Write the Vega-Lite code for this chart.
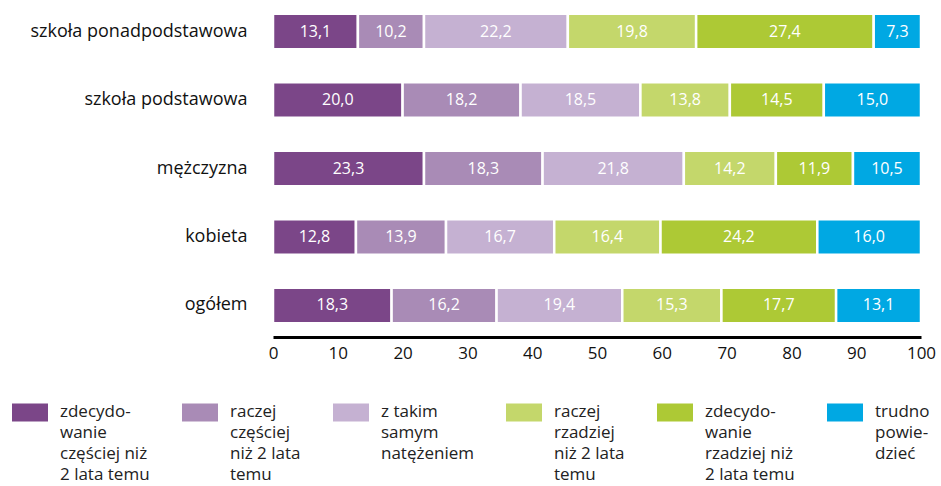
{
  "$schema": "https://vega.github.io/schema/vega-lite/v6.json",
  "width": 648,
  "height": 337,
  "autosize": {"type": "none"},
  "padding": {"left": 273, "top": 0, "right": 20, "bottom": 149},
  "config": {
    "view": {"stroke": null},
    "font": "Open Sans",
    "style": {"guide-label": {"lineHeight": 21}},
    "locale": {"number": {"decimal": ",", "thousands": " ", "grouping": [3], "currency": ["", " zł"]}}
  },
  "data": {
    "values": [
      {"g": "szkoła ponadpodstawowa", "r": "zdecydowanie częściej niż 2 lata temu", "o": 1, "v": 13.1},
      {"g": "szkoła ponadpodstawowa", "r": "raczej częściej niż 2 lata temu", "o": 2, "v": 10.2},
      {"g": "szkoła ponadpodstawowa", "r": "z takim samym natężeniem", "o": 3, "v": 22.2},
      {"g": "szkoła ponadpodstawowa", "r": "raczej rzadziej niż 2 lata temu", "o": 4, "v": 19.8},
      {"g": "szkoła ponadpodstawowa", "r": "zdecydowanie rzadziej niż 2 lata temu", "o": 5, "v": 27.4},
      {"g": "szkoła ponadpodstawowa", "r": "trudno powiedzieć", "o": 6, "v": 7.3},
      {"g": "szkoła podstawowa", "r": "zdecydowanie częściej niż 2 lata temu", "o": 1, "v": 20.0},
      {"g": "szkoła podstawowa", "r": "raczej częściej niż 2 lata temu", "o": 2, "v": 18.2},
      {"g": "szkoła podstawowa", "r": "z takim samym natężeniem", "o": 3, "v": 18.5},
      {"g": "szkoła podstawowa", "r": "raczej rzadziej niż 2 lata temu", "o": 4, "v": 13.8},
      {"g": "szkoła podstawowa", "r": "zdecydowanie rzadziej niż 2 lata temu", "o": 5, "v": 14.5},
      {"g": "szkoła podstawowa", "r": "trudno powiedzieć", "o": 6, "v": 15.0},
      {"g": "mężczyzna", "r": "zdecydowanie częściej niż 2 lata temu", "o": 1, "v": 23.3},
      {"g": "mężczyzna", "r": "raczej częściej niż 2 lata temu", "o": 2, "v": 18.3},
      {"g": "mężczyzna", "r": "z takim samym natężeniem", "o": 3, "v": 21.8},
      {"g": "mężczyzna", "r": "raczej rzadziej niż 2 lata temu", "o": 4, "v": 14.2},
      {"g": "mężczyzna", "r": "zdecydowanie rzadziej niż 2 lata temu", "o": 5, "v": 11.9},
      {"g": "mężczyzna", "r": "trudno powiedzieć", "o": 6, "v": 10.5},
      {"g": "kobieta", "r": "zdecydowanie częściej niż 2 lata temu", "o": 1, "v": 12.8},
      {"g": "kobieta", "r": "raczej częściej niż 2 lata temu", "o": 2, "v": 13.9},
      {"g": "kobieta", "r": "z takim samym natężeniem", "o": 3, "v": 16.7},
      {"g": "kobieta", "r": "raczej rzadziej niż 2 lata temu", "o": 4, "v": 16.4},
      {"g": "kobieta", "r": "zdecydowanie rzadziej niż 2 lata temu", "o": 5, "v": 24.2},
      {"g": "kobieta", "r": "trudno powiedzieć", "o": 6, "v": 16.0},
      {"g": "ogółem", "r": "zdecydowanie częściej niż 2 lata temu", "o": 1, "v": 18.3},
      {"g": "ogółem", "r": "raczej częściej niż 2 lata temu", "o": 2, "v": 16.2},
      {"g": "ogółem", "r": "z takim samym natężeniem", "o": 3, "v": 19.4},
      {"g": "ogółem", "r": "raczej rzadziej niż 2 lata temu", "o": 4, "v": 15.3},
      {"g": "ogółem", "r": "zdecydowanie rzadziej niż 2 lata temu", "o": 5, "v": 17.7},
      {"g": "ogółem", "r": "trudno powiedzieć", "o": 6, "v": 13.1}
    ]
  },
  "transform": [
    {"stack": "v", "groupby": ["g"], "sort": [{"field": "o", "order": "ascending"}], "as": ["v0", "v1"]},
    {"calculate": "(datum.v0 + datum.v1) / 2", "as": "mid"}
  ],
  "encoding": {
    "y": {
      "field": "g",
      "type": "nominal",
      "sort": ["szkoła ponadpodstawowa", "szkoła podstawowa", "mężczyzna", "kobieta", "ogółem"],
      "scale": {"paddingInner": 0.48, "paddingOuter": 0.2},
      "axis": {"title": null, "domain": false, "ticks": false, "labelPadding": 26, "labelFontSize": 18, "labelColor": "#111", "labelLimit": 300}
    }
  },
  "layer": [
    {
      "mark": {"type": "bar", "stroke": "white", "strokeWidth": 2.5},
      "encoding": {
        "x": {
          "field": "v0",
          "type": "quantitative",
          "scale": {"domain": [0, 100], "nice": false},
          "axis": {"title": null, "grid": false, "ticks": false, "domainColor": "#000", "domainWidth": 3, "labelFontSize": 17, "labelColor": "#111", "labelPadding": 8, "values": [0, 10, 20, 30, 40, 50, 60, 70, 80, 90, 100], "labelFlush": false}
        },
        "x2": {"field": "v1"},
        "color": {
          "field": "r",
          "type": "nominal",
          "scale": {
            "domain": ["zdecydowanie częściej niż 2 lata temu", "raczej częściej niż 2 lata temu", "z takim samym natężeniem", "raczej rzadziej niż 2 lata temu", "zdecydowanie rzadziej niż 2 lata temu", "trudno powiedzieć"],
            "range": ["#7b4688", "#a98bb6", "#c5b1d2", "#c4d76b", "#adc935", "#00a8e3"]
          },
          "legend": {
            "title": null,
            "orient": "none",
            "legendX": -261,
            "legendY": 399,
            "direction": "horizontal",
            "columns": 6,
            "columnPadding": 32,
            "padding": 0,
            "symbolType": "M-1,-0.75H1V0.25H-1Z",
            "symbolSize": 1296,
            "symbolStrokeWidth": 0,
            "symbolOpacity": 1,
            "labelFontSize": 17,
            "labelColor": "#222",
            "labelLimit": 200,
            "labelOffset": 12,
            "labelBaseline": "alphabetic",
            "labelExpr": "datum.label == 'zdecydowanie częściej niż 2 lata temu' ? ['zdecydo-', 'wanie', 'częściej niż', '2 lata temu'] : datum.label == 'raczej częściej niż 2 lata temu' ? ['raczej', 'częściej', 'niż 2 lata', 'temu'] : datum.label == 'z takim samym natężeniem' ? ['z takim', 'samym', 'natężeniem', ''] : datum.label == 'raczej rzadziej niż 2 lata temu' ? ['raczej', 'rzadziej', 'niż 2 lata', 'temu'] : datum.label == 'zdecydowanie rzadziej niż 2 lata temu' ? ['zdecydo-', 'wanie', 'rzadziej niż', '2 lata temu'] : ['trudno', 'powie-', 'dzieć', '']"
          }
        }
      }
    },
    {
      "mark": {"type": "text", "color": "white", "fontSize": 16},
      "encoding": {
        "x": {"field": "mid", "type": "quantitative"},
        "text": {"field": "v", "type": "quantitative", "format": ".1f"}
      }
    }
  ]
}
